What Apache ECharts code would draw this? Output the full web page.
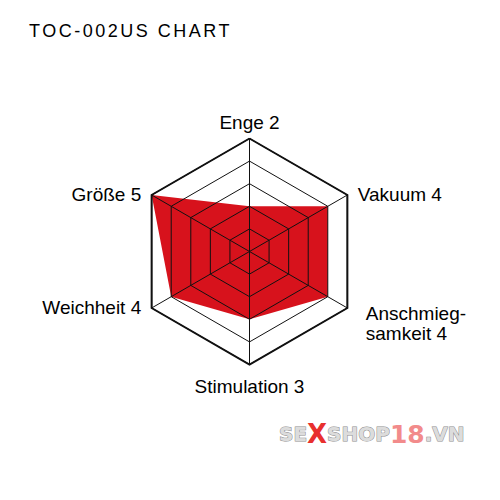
<!DOCTYPE html>
<html>
<head>
<meta charset="utf-8">
<script src="https://cdn.jsdelivr.net/npm/echarts@6/dist/echarts.min.js"></script>
<style>
  html, body { margin: 0; padding: 0; background: #fff; }
  #chart { width: 500px; height: 500px; }
</style>
</head>
<body>
<div id="chart"></div>
<script>
  'use strict'

  // indicators, counter-clockwise from the top
  var categories = ['Enge', 'Größe', 'Weichheit', 'Stimulation', 'Anschmieg-\nsamkeit', 'Vakuum'];
  var values = [2, 5, 4, 3, 4, 4];
  var maxValue = 5;
  var titleText = 'TOC-002US CHART';

  // which rich style each axis name uses (small position nudges)
  var labelKeys = ['top', 'side', 'low', 'bottom', 'multi', 'side'];

  var indicators = categories.map(function (c) {
    return { name: c, max: maxValue, min: 0 };
  });

  var font = '"Liberation Sans", Arial, Helvetica, sans-serif';
  var wmFont = '"DejaVu Sans", sans-serif';
  var ink = '#000';

  var option = {
    animation: false,
    backgroundColor: '#ffffff',
    title: {
      text: titleText,
      left: 29,
      top: 22,
      padding: 0,
      textStyle: {
        fontFamily: font,
        fontSize: 18,
        fontWeight: 'normal',
        color: ink
      }
    },
    radar: [
      {
        center: ['49.9%', '50.3%'],
        radius: 113,
        startAngle: 90,
        splitNumber: 5,
        shape: 'polygon',
        z: 3,
        indicator: indicators,
        axisNameGap: 12,
        axisName: {
          fontFamily: font,
          fontSize: 19,
          color: ink,
          formatter: function (name) {
            var i = categories.indexOf(name);
            var key = labelKeys[i];
            if (key === 'multi') {
              var parts = name.split('\n');
              return '{m1|' + parts[0] + '}\n{m2|' + parts[1] + ' ' + values[i] + '}';
            }
            return '{' + key + '|' + name + ' ' + values[i] + '}';
          },
          rich: {
            top: { fontFamily: font, fontSize: 19, color: ink, lineHeight: 8 },
            bottom: { fontFamily: font, fontSize: 19, color: ink },
            side: { fontFamily: font, fontSize: 19, color: ink, padding: [10, 0, 0, 0] },
            low: { fontFamily: font, fontSize: 19, color: ink, padding: [0, 0, 14, 0] },
            m1: { fontFamily: font, fontSize: 19, color: ink, lineHeight: 38, verticalAlign: 'bottom', padding: [0, 0, 0, 8] },
            m2: { fontFamily: font, fontSize: 19, color: ink, lineHeight: 20, padding: [0, 0, 0, 8] }
          }
        },
        axisLine: { lineStyle: { color: '#111', width: 1 } },
        splitLine: { lineStyle: { color: '#111', width: 1 } },
        splitArea: { show: false },
        axisTick: { show: false },
        axisLabel: { show: false }
      },
      {
        // heavier outer ring
        center: ['49.9%', '50.3%'],
        radius: 113,
        startAngle: 90,
        splitNumber: 1,
        shape: 'polygon',
        z: 4,
        indicator: indicators,
        axisName: { show: false },
        axisLine: { show: false },
        splitLine: { lineStyle: { color: '#111', width: 2 } },
        splitArea: { show: false }
      }
    ],
    graphic: [
      {
        type: 'text',
        right: 35,
        top: 421,
        style: {
          text: '{g|SE}{x|X}{g|SHOP}{p|18}{g|.VN}',
          rich: {
            g: { fontFamily: wmFont, fontSize: 20, fontWeight: 'bold', fill: '#dcdcdc',
                 stroke: '#8c8c8c', lineWidth: 1 },
            x: { fontFamily: wmFont, fontSize: 26, fontWeight: 'bold', fill: '#e8302e' },
            p: { fontFamily: wmFont, fontSize: 25, fontWeight: 'bold', fill: '#f28b8b' }
          }
        }
      }
    ],
    series: [
      {
        type: 'radar',
        radarIndex: 0,
        z: 2,
        symbol: 'none',
        lineStyle: { width: 0 },
        areaStyle: { color: '#d7121c', opacity: 1 },
        data: [{ value: values, name: 'TOC-002US' }]
      }
    ]
  };

  var chart = echarts.init(document.getElementById('chart'), null, { renderer: 'svg' });
  chart.setOption(option);

  // the title in the reference is letter-spaced
  var texts = document.querySelectorAll('#chart svg text');
  for (var k = 0; k < texts.length; k++) {
    if (texts[k].textContent === titleText) {
      texts[k].style.letterSpacing = '2.5px';
    }
  }
</script>
</body>
</html>
